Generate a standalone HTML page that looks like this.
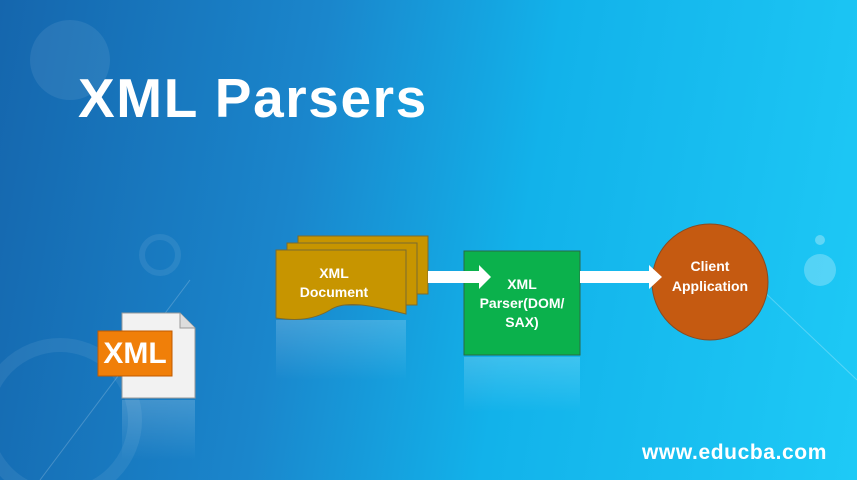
<!DOCTYPE html>
<html><head><style>
body{margin:0}
#c{position:relative;width:857px;height:480px;overflow:hidden;font-family:"Liberation Sans",sans-serif;
background:linear-gradient(100deg,#1566ad 0%,#1a86cc 35%,#12b2ea 60%,#1ecaf6 100%);}
.t{position:absolute;color:#fff;font-weight:bold}
</style></head><body><div id="c">
<svg width="857" height="480" style="position:absolute;left:0;top:0">
<defs>
<linearGradient id="r" x1="0" y1="0" x2="0" y2="1"><stop offset="0" stop-color="#fff" stop-opacity=".18"/><stop offset="1" stop-color="#fff" stop-opacity="0"/></linearGradient>
</defs>
<circle cx="70" cy="60" r="40" fill="#fff" opacity=".08"/>
<circle cx="820" cy="270" r="16" fill="#fff" opacity=".25"/>
<circle cx="820" cy="240" r="5" fill="#fff" opacity=".3"/>
<circle cx="160" cy="255" r="18" fill="none" stroke="#fff" stroke-width="6" opacity=".08"/>
<circle cx="60" cy="420" r="75" fill="none" stroke="#fff" stroke-width="14" opacity=".07"/>
<line x1="40" y1="480" x2="190" y2="280" stroke="#fff" stroke-opacity=".2"/>
<line x1="720" y1="250" x2="857" y2="380" stroke="#fff" stroke-opacity=".25"/>
<rect x="276" y="320" width="130" height="60" fill="url(#r)"/>
<rect x="464" y="357" width="116" height="55" fill="url(#r)"/>
<rect x="122" y="400" width="73" height="60" fill="url(#r)"/>
<rect x="298" y="236" width="130" height="58" fill="#c79500" stroke="#7a6a30" stroke-width="1"/>
<rect x="287" y="243" width="130" height="62" fill="#c79500" stroke="#7a6a30" stroke-width="1"/>
<path d="M276 250 H406 V314 C370 305 345 300 330 310 C310 322 290 320 276 318 Z" fill="#c79500" stroke="#7a6a30" stroke-width="1"/>
<rect x="464" y="251" width="116" height="104" fill="#0bb14c" stroke="#2a6a44" stroke-width="1"/>
<circle cx="710" cy="282" r="58" fill="#c55a11" stroke="#8a4a20" stroke-width="1"/>
<path d="M428 271 H479 V265 L491 277 L479 289 V283 H428 Z" fill="#fff"/>
<path d="M580 271 H649 V265 L662 277 L649 289 V283 H580 Z" fill="#fff"/>
<path d="M122 313 H180 L195 328 V398 H122 Z" fill="#f2f2f2" stroke="#999"/>
<path d="M180 313 V328 H195" fill="#ddd" stroke="#999"/>
<rect x="98" y="331" width="74" height="45" fill="#f07f09" stroke="#c05a00"/>
</svg>
<div class="t" style="left:78px;top:66px;font-size:55px;letter-spacing:1.6px">XML Parsers</div>
<div class="t" style="left:98px;top:331px;width:74px;text-align:center;font-size:30px;line-height:45px">XML</div>
<div class="t" style="left:276px;top:264px;width:116px;text-align:center;font-size:14px;line-height:19px">XML<br>Document</div>
<div class="t" style="left:464px;top:275px;width:116px;text-align:center;font-size:14px;line-height:19px">XML<br>Parser(DOM/<br>SAX)</div>
<div class="t" style="left:652px;top:256px;width:116px;text-align:center;font-size:14px;line-height:20px">Client<br>Application</div>
<div class="t" style="left:642px;top:441px;font-size:21px;letter-spacing:0.6px">www.educba.com</div>
</div></body></html>
